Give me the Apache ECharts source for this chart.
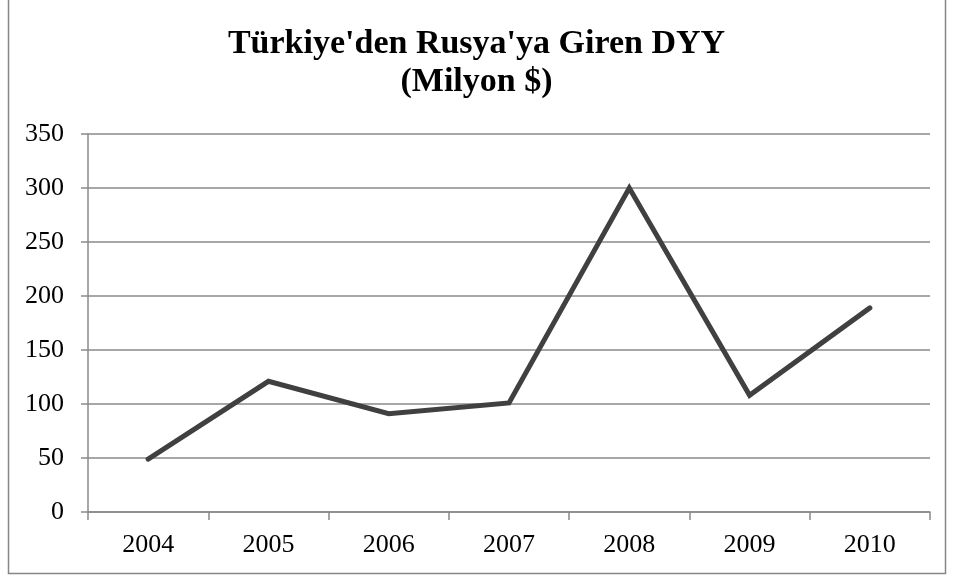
<!DOCTYPE html>
<html>
<head>
<meta charset="utf-8">
<script src="https://cdn.jsdelivr.net/npm/echarts@6/dist/echarts.min.js"></script>
<style>
  html, body { margin: 0; padding: 0; background: #fff; }
  #chart { width: 953px; height: 579px; }
</style>
</head>
<body>
<div id="chart"></div>
<script>
const years = ['2004', '2005', '2006', '2007', '2008', '2009', '2010'];
const dyy = [49, 121, 91, 101, 300, 108, 189];
const yTicks = [0, 350, 50]; // min, max, interval

const chart = echarts.init(document.getElementById('chart'));
const gridColor = '#8a8a8a';
const serif = '"Liberation Serif", "Times New Roman", serif';

chart.setOption({
  animation: false,
  backgroundColor: '#fff',
  title: {
    text: "Türkiye'den Rusya'ya Giren DYY\n(Milyon $)",
    left: 'center',
    top: 20,
    textStyle: {
      fontFamily: serif,
      fontWeight: 'bold',
      fontSize: 34,
      lineHeight: 38,
      color: '#000'
    }
  },
  graphic: [{
    type: 'rect',
    shape: { x: 8.5, y: -2, width: 937, height: 575.5 },
    style: { fill: 'none', stroke: '#868686', lineWidth: 1.5 },
    silent: true
  }],
  grid: { left: 88, right: 23, top: 134, bottom: 67 },
  xAxis: {
    type: 'category',
    data: years,
    boundaryGap: true,
    axisLine: { lineStyle: { color: gridColor, width: 1.5 } },
    axisTick: { show: true, length: 8, lineStyle: { color: gridColor, width: 1.5 } },
    axisLabel: { fontFamily: serif, fontSize: 26, color: '#000', margin: 20 }
  },
  yAxis: {
    type: 'value',
    min: yTicks[0],
    max: yTicks[1],
    interval: yTicks[2],
    axisLine: { show: true, lineStyle: { color: gridColor, width: 1.5 } },
    axisTick: { show: true, length: 7, lineStyle: { color: gridColor, width: 1.5 } },
    splitLine: { lineStyle: { color: gridColor, width: 1.5 } },
    axisLabel: { fontFamily: serif, fontSize: 26, color: '#000', margin: 24 }
  },
  series: [{
    type: 'line',
    data: dyy,
    showSymbol: false,
    lineStyle: { color: '#404040', width: 5, cap: 'round', join: 'miter' }
  }]
});
</script>
</body>
</html>
